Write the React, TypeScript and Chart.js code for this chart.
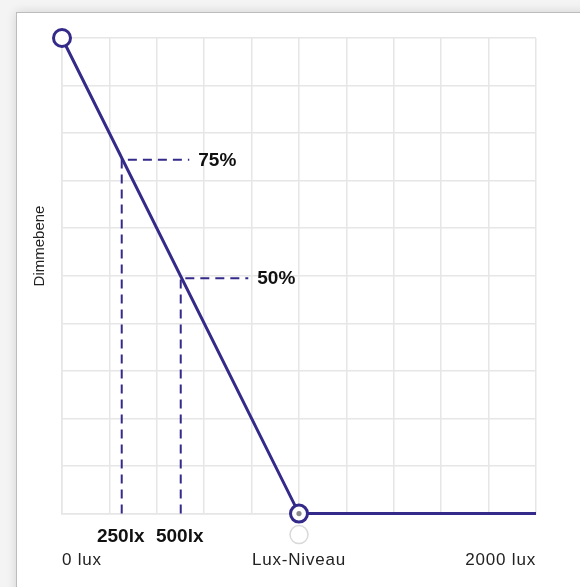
import React, { useEffect, useRef } from "react";
import { Chart, registerables } from "chart.js";

Chart.register(...registerables);

// ---- data ----
const luxPoints = [0, 1000, 2000];
const dimPoints = [100, 0, 0];
const axisTickValues = [0, 1000, 2000];
const axisTickLabels = ["0 lux", "Lux-Niveau", "2000 lux"];
const markerLux = [252, 501];
const markerDim = [74.4, 49.5];
const markerLuxLabels = ["250lx", "500lx"];
const markerDimLabels = ["75%", "50%"];
const guideSpanLux = 285;
const yAxisTitle = "Dimmebene";

const PURPLE = "#332a89";
const FONT = "'Liberation Sans', Arial, Helvetica, sans-serif";

export default function App() {
  const ref = useRef<HTMLCanvasElement | null>(null);

  useEffect(() => {
    if (!ref.current) return;

    const guideSets = markerLux.map((lx, i) => ({
      label: "guide" + i,
      data: [
        { x: lx, y: 0 },
        { x: lx, y: markerDim[i] },
        { x: lx + guideSpanLux, y: markerDim[i] },
      ],
      borderColor: PURPLE,
      borderWidth: 2,
      borderDash: [9, 6],
      pointRadius: 0,
      fill: false,
      tension: 0,
      clip: false as any,
    }));

    const spacing = {
      id: "spacing",
      beforeDraw(chart: any) {
        (chart.ctx as any).letterSpacing = "0.8px";
      },
    };

    const overlay = {
      id: "overlay",
      afterDatasetsDraw(chart: any) {
        const { ctx, chartArea, scales } = chart;
        const xs = scales.x;
        const ys = scales.y;
        ctx.save();
        (ctx as any).letterSpacing = "0px";
        // gray center dot on the Lux-Niveau handle
        const lxPix = xs.getPixelForValue(luxPoints[1]);
        const y0 = ys.getPixelForValue(dimPoints[1]);
        ctx.fillStyle = "#8a8a8a";
        ctx.beginPath();
        ctx.arc(lxPix, y0, 2.6, 0, Math.PI * 2);
        ctx.fill();
        // light gray handle below axis
        ctx.strokeStyle = "#d9d9d9";
        ctx.lineWidth = 1.5;
        ctx.fillStyle = "#ffffff";
        ctx.beginPath();
        ctx.arc(lxPix, chartArea.bottom + 21, 9, 0, Math.PI * 2);
        ctx.fill();
        ctx.stroke();

        // marker lux labels
        ctx.fillStyle = "#111111";
        ctx.font = `bold 19px ${FONT}`;
        ctx.textAlign = "center";
        ctx.textBaseline = "middle";
        markerLux.forEach((lx, i) => {
          ctx.fillText(markerLuxLabels[i], xs.getPixelForValue(lx) - 1, chartArea.bottom + 23);
        });
        // percentage labels
        ctx.textAlign = "left";
        markerLux.forEach((lx, i) => {
          const px = xs.getPixelForValue(lx + guideSpanLux) + 9;
          const py = ys.getPixelForValue(markerDim[i]) + 1;
          ctx.fillText(markerDimLabels[i], px, py);
        });
        // y-axis title
        ctx.font = `15px ${FONT}`;
        ctx.fillStyle = "#222222";
        ctx.translate(23, 233);
        ctx.rotate(-Math.PI / 2);
        ctx.textAlign = "center";
        ctx.fillText(yAxisTitle, 0, 0);
        ctx.restore();
      },
    };

    const chart = new Chart(ref.current, {
      type: "line",
      data: {
        datasets: [
          ...guideSets,
          {
            label: "Dimmkurve",
            data: luxPoints.map((x, i) => ({ x, y: dimPoints[i] })),
            borderColor: PURPLE,
            borderWidth: 3,
            pointRadius: [8.5, 8.5, 0],
            pointHoverRadius: [8.5, 8.5, 0],
            pointBorderWidth: 3,
            pointBackgroundColor: "#ffffff",
            pointBorderColor: PURPLE,
            fill: false,
            tension: 0,
            clip: false as any,
          },
        ],
      },
      options: {
        responsive: false,
        animation: false,
        layout: { padding: { left: 45, top: 25, right: 44, bottom: 16 } },
        plugins: {
          legend: { display: false },
          tooltip: { enabled: false },
        },
        scales: {
          x: {
            type: "linear",
            min: 0,
            max: 2000,
            grid: { color: "#e6e6e6", lineWidth: 1.5, drawTicks: false },
            border: { color: "#e6e6e6", width: 1.5 },
            ticks: {
              stepSize: 200,
              autoSkip: false,
              maxRotation: 0,
              align: "inner",
              padding: 37,
              color: "#222222",
              font: { family: FONT, size: 17 },
              callback: (v: any) => {
                const idx = axisTickValues.indexOf(Number(v));
                return idx >= 0 ? axisTickLabels[idx] : "";
              },
            },
          },
          y: {
            type: "linear",
            min: 0,
            max: 100,
            grid: { color: "#e6e6e6", lineWidth: 1.5, drawTicks: false },
            border: { color: "#e6e6e6", width: 1.5 },
            ticks: { stepSize: 10, display: false },
          },
        },
      },
      plugins: [spacing, overlay],
    });
    return () => chart.destroy();
  }, []);

  return (
    <div
      style={{
        position: "fixed",
        left: 0,
        top: 0,
        width: 580,
        height: 587,
        background: "#f4f4f4",
        overflow: "hidden",
      }}
    >
      <div
        style={{
          position: "absolute",
          left: 16,
          top: 12,
          width: 700,
          height: 700,
          background: "#ffffff",
          border: "1px solid #bcbcbc",
          boxShadow: "0 0 10px rgba(0,0,0,0.14)",
        }}
      />
      <canvas
        ref={ref}
        width={563}
        height={611}
        style={{ position: "absolute", left: 17, top: 13, width: 563, height: 611 }}
      />
    </div>
  );
}
